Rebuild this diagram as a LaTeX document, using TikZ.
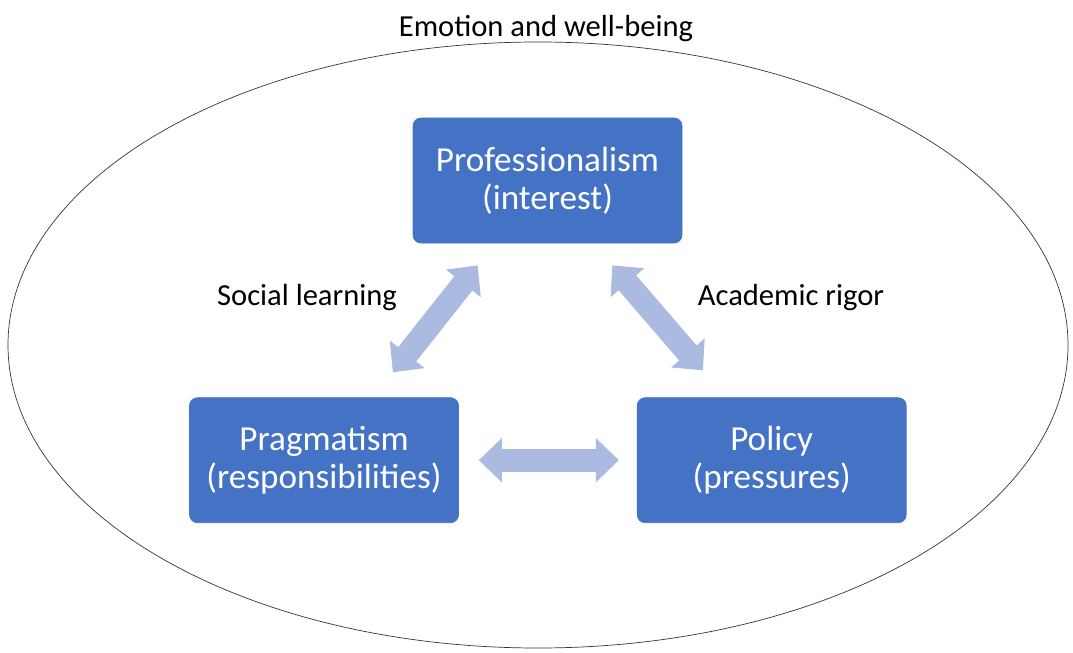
\documentclass[tikz,border=0pt]{standalone}
\usepackage{fontspec}
\setmainfont{Carlito}
\usetikzlibrary{positioning,calc,arrows.meta,shapes.geometric}
\definecolor{boxblue}{HTML}{4472C4}
\definecolor{arrowblue}{HTML}{ABBAE0}
\definecolor{rimgray}{HTML}{2F3545}
\tikzset{
    block/.style = {draw=boxblue, fill=boxblue, rectangle, rounded corners=0.16cm,
        minimum height=2.5cm, minimum width=5.38cm, align=center,
        text=white, font=\fontsize{20}{21.5}\selectfont},
    fatarrow/.style = {draw=arrowblue, line width=0.46cm,
        {Triangle[width=0.86cm,length=0.46cm]}-{Triangle[width=0.86cm,length=0.46cm]}},
    tag/.style = {font=\fontsize{17.4}{20}\selectfont}
}

\begin{document}
\begin{tikzpicture}[auto, node distance=2cm]
        \useasboundingbox (0,0) rectangle (21.46,13.04);
        \node [draw=rimgray, thin, ellipse, minimum width=21.2cm, minimum height=12.12cm] (frame) at (10.76,6.14) {};
        \node [tag] (title) at (10.92,12.47) {Emotion and well-being};
        \node [block] (prof) at (10.95,9.43) {Professionalism\\(interest)};
        \node [block, below=3.08cm of prof, xshift=-4.47cm] (prag) {Pragmatism\\(responsibilities)};
        \node [block, right=3.56cm of prag] (pol) {Policy\\(pressures)};
        \coordinate (l1) at ($(prof.south west)+(1.3,-0.44)$);
        \coordinate (l2) at ($(prag.north east)+(-1.32,0.5)$);
        \coordinate (r1) at ($(prof.south east)+(-1.4,-0.44)$);
        \coordinate (r2) at ($(pol.north west)+(1.32,0.54)$);
        \draw [fatarrow] (l1) -- (l2);
        \draw [fatarrow] (r1) -- (r2);
        \draw [fatarrow, shorten <=0.4cm, shorten >=0.36cm] (prag) -- (pol);
        \node [tag] (social) at (6.14,7.08) {Social learning};
        \node [tag] (rigor) at (15.82,7.08) {Academic rigor};
    \end{tikzpicture}
\end{document}
